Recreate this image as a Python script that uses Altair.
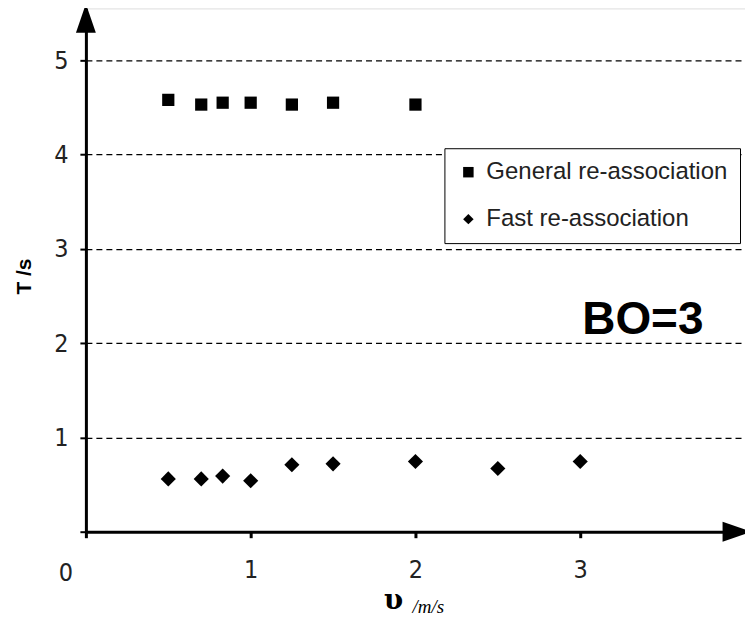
import altair as alt
import pandas as pd

# ---- data ----
series_names = ["General re-association", "Fast re-association"]
general_v = [0.5, 0.7, 0.83, 1.0, 1.25, 1.5, 2.0]
general_T = [4.58, 4.53, 4.55, 4.55, 4.53, 4.55, 4.53]
fast_v = [0.5, 0.7, 0.83, 1.0, 1.25, 1.5, 2.0, 2.5, 3.0]
fast_T = [0.56, 0.56, 0.59, 0.54, 0.71, 0.72, 0.745, 0.67, 0.745]
x_ticks = [0, 1, 2, 3]
y_ticks = [0, 1, 2, 3, 4, 5]
annotation = "BO=3"
ann_pos = [3.38, 2.25]

gen_df = pd.DataFrame({"v": general_v, "T": general_T,
                       "series": [series_names[0]] * len(general_v)})
fast_df = pd.DataFrame({"v": fast_v, "T": fast_T,
                        "series": [series_names[1]] * len(fast_v)})

W, H = 660, 524
NARROW = "DejaVu Sans Condensed, Liberation Sans Narrow, Arial Narrow, Liberation Sans"

xscale = alt.Scale(domain=[0, 4], nice=False, zero=False)
yscale = alt.Scale(domain=[0, 5.55], nice=False, zero=False)
shape_scale = alt.Scale(domain=series_names, range=["square", "diamond"])

x_enc = alt.X("v:Q", scale=xscale,
              axis=alt.Axis(values=x_ticks, grid=False, title=None, format="d",
                            labelExpr="datum.value == 0 ? '' : datum.label",
                            labelFont=NARROW, labelFontSize=25, labelColor="#222",
                            labelPadding=20, tickSize=6, tickWidth=3,
                            tickColor="black", domainColor="black",
                            domainWidth=3))
y_enc = alt.Y("T:Q", scale=yscale,
              axis=alt.Axis(values=y_ticks, grid=True, gridColor="black",
                            gridDash=[6, 4], gridWidth=1.3, gridOpacity=1,
                            format="d",
                            labelExpr="datum.value == 0 ? '' : datum.label",
                            labelFont=NARROW, labelFontSize=25, labelColor="#222",
                            labelPadding=12, tickSize=6, tickWidth=2,
                            tickColor="black", domainColor="black",
                            domainWidth=3, title="T /s",
                            titleFont="Liberation Sans", titleFontSize=21,
                            titleFontWeight="bold", titleAngle=270,
                            titleX=-61, titleY=268, titleAlign="center",
                            titleBaseline="middle"))
legend = alt.Legend(title=None, orient="none", legendX=359, legendY=140,
                    strokeColor="black", fillColor="white", padding=12,
                    labelFont="Liberation Sans", labelFontSize=24,
                    labelColor="#222", rowPadding=23, symbolSize=110,
                    symbolFillColor="black", symbolStrokeColor="black",
                    symbolStrokeWidth=0, labelOffset=6, cornerRadius=0,
                    labelLimit=500)

gen_pts = alt.Chart(gen_df).mark_point(filled=True, opacity=1, strokeWidth=0,
                                       color="black", size=150).encode(
    x=x_enc, y=y_enc,
    shape=alt.Shape("series:N", scale=shape_scale, legend=legend))
fast_pts = alt.Chart(fast_df).mark_point(filled=True, opacity=1, strokeWidth=0,
                                         color="black", size=230).encode(
    x=alt.X("v:Q", scale=xscale), y=alt.Y("T:Q", scale=yscale),
    shape=alt.Shape("series:N", scale=shape_scale, legend=legend))

ann_df = pd.DataFrame({"v": [ann_pos[0]], "T": [ann_pos[1]], "txt": [annotation]})
bo = alt.Chart(ann_df).mark_text(font="Liberation Sans", fontSize=46,
                                 fontWeight="bold", color="black",
                                 baseline="middle").encode(
    x=alt.X("v:Q", scale=xscale), y=alt.Y("T:Q", scale=yscale), text="txt:N")

one = pd.DataFrame({"k": [0]})
y_arrow = alt.Chart(one).mark_point(
    shape="M0,-1L0.6,0.75L-0.6,0.75Z", filled=True, opacity=1,
    color="black", size=1100).encode(x=alt.value(0), y=alt.value(12))
x_arrow = alt.Chart(one).mark_point(
    shape="M1,0L-0.75,-0.6L-0.75,0.6Z", filled=True, opacity=1,
    color="black", size=1100).encode(x=alt.value(W - 10), y=alt.value(H))

zero_lab = alt.Chart(one).mark_text(
    text="0", font=NARROW, fontSize=25, color="#222",
    baseline="middle", align="center").encode(x=alt.value(-20), y=alt.value(565))

x_title1 = alt.Chart(one).mark_text(
    text="υ", font="DejaVu Serif", fontSize=28, fontWeight="bold",
    color="black", baseline="middle", align="center").encode(
    x=alt.value(308), y=alt.value(593))
x_title2 = alt.Chart(one).mark_text(
    text="/m/s", font="Liberation Serif", fontSize=19, fontStyle="italic",
    color="black", baseline="alphabetic", align="left").encode(
    x=alt.value(327), y=alt.value(605))

chart = alt.layer(gen_pts, fast_pts, bo, y_arrow, x_arrow, zero_lab,
                  x_title1, x_title2).properties(
    width=W, height=H,
    autosize=alt.AutoSizeParams(type="none"),
    padding={"left": 78, "top": 0, "right": 0, "bottom": 87},
).configure_view(stroke=None).configure(background="white")

chart.save("out.html", embed_options={"renderer": "svg", "actions": False})
